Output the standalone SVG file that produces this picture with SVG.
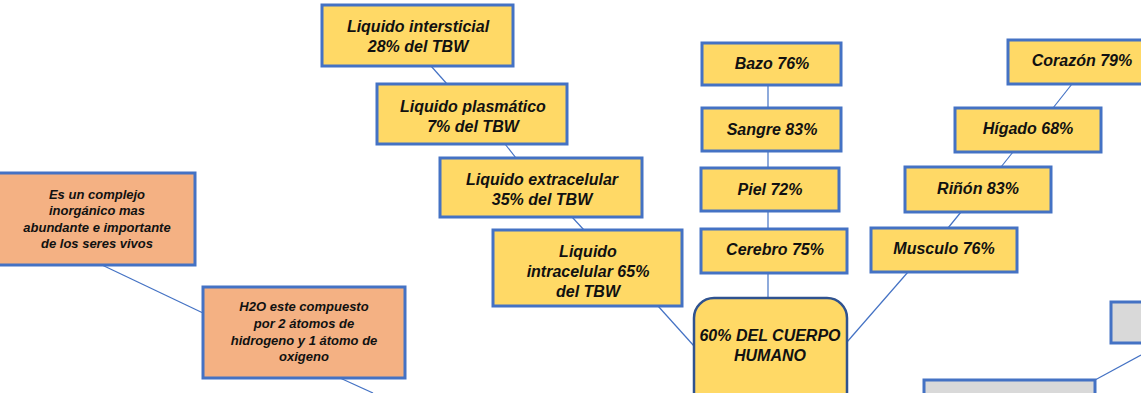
<svg xmlns="http://www.w3.org/2000/svg" width="1141" height="393" viewBox="0 0 1141 393">
<style>
.y{fill:#FFD966;stroke:#4472C4;stroke-width:3}
.o{fill:#F4B183;stroke:#4472C4;stroke-width:3}
.g{fill:#D9D9D9;stroke:#4472C4;stroke-width:3}
.c{fill:#FFD966;stroke:#2F528F;stroke-width:2.5}
text{font-family:"Liberation Sans",Arial,sans-serif;font-weight:bold;font-style:italic;fill:#111;text-anchor:middle}
.t16{font-size:16px}
.t13{font-size:13px}
.ln{stroke:#4472C4;stroke-width:1.2;fill:none}
</style>
<rect width="1141" height="393" fill="#fff"/>
<g id="connectors">
<line class="ln" x1="102" y1="265" x2="203" y2="313"/>
<line class="ln" x1="340" y1="378" x2="373" y2="393"/>
<line class="ln" x1="431" y1="66" x2="447" y2="84"/>
<line class="ln" x1="505" y1="144" x2="516" y2="158"/>
<line class="ln" x1="572" y1="217" x2="584" y2="230"/>
<line class="ln" x1="658" y1="306" x2="694" y2="346"/>
<line class="ln" x1="768" y1="85" x2="768" y2="108"/>
<line class="ln" x1="768" y1="151" x2="768" y2="168"/>
<line class="ln" x1="768" y1="211" x2="768" y2="229"/>
<line class="ln" x1="768" y1="273" x2="768" y2="298"/>
<line class="ln" x1="847" y1="342" x2="908" y2="272"/>
<line class="ln" x1="948" y1="228" x2="961" y2="212"/>
<line class="ln" x1="1001" y1="167" x2="1013" y2="152"/>
<line class="ln" x1="1053" y1="108" x2="1072" y2="84"/>
<line class="ln" x1="1095" y1="380" x2="1141" y2="355"/>
</g>
<g id="n-complejo"><rect class="o" x="-2" y="173" width="197" height="92"/>
<text class="t13" x="97" y="199">Es un complejo</text><text class="t13" x="97" y="215">inorgánico mas</text><text class="t13" x="97" y="231.5">abundante e importante</text><text class="t13" x="97" y="248">de los seres vivos</text></g>
<g id="n-h2o"><rect class="o" x="203" y="287" width="202" height="91"/>
<text class="t13" x="304" y="311">H2O este compuesto</text><text class="t13" x="304" y="328">por 2 átomos de</text><text class="t13" x="304" y="344.5">hidrogeno y 1 átomo de</text><text class="t13" x="304" y="361">oxigeno</text></g>
<g id="n-intersticial"><rect class="y" x="322" y="5" width="191" height="61"/>
<text class="t16" x="418" y="32">Liquido intersticial</text><text class="t16" x="418" y="52">28% del TBW</text></g>
<g id="n-plasmatico"><rect class="y" x="377" y="84" width="190" height="60"/>
<text class="t16" x="473" y="111.5">Liquido plasmático</text><text class="t16" x="473" y="131.5">7% del TBW</text></g>
<g id="n-extracelular"><rect class="y" x="440" y="158" width="202" height="59"/>
<text class="t16" x="542" y="185">Liquido extracelular</text><text class="t16" x="542" y="205">35% del TBW</text></g>
<g id="n-intracelular"><rect class="y" x="493" y="230" width="189" height="76"/>
<text class="t16" x="588" y="257">Liquido</text><text class="t16" x="588" y="277">intracelular 65%</text><text class="t16" x="588" y="297">del TBW</text></g>
<g id="n-bazo"><rect class="y" x="702" y="43" width="139" height="42"/><text class="t16" x="772" y="69">Bazo 76%</text></g>
<g id="n-sangre"><rect class="y" x="702" y="108" width="139" height="43"/><text class="t16" x="772" y="135">Sangre 83%</text></g>
<g id="n-piel"><rect class="y" x="701" y="168" width="138" height="43"/><text class="t16" x="770" y="195">Piel 72%</text></g>
<g id="n-cerebro"><rect class="y" x="701" y="229" width="146" height="44"/><text class="t16" x="775" y="255">Cerebro 75%</text></g>
<g id="n-centro"><rect class="c" x="694" y="298" width="153" height="115" rx="20"/>
<text class="t16" x="770" y="341">60% DEL CUERPO</text><text class="t16" x="770" y="361">HUMANO</text></g>
<g id="n-musculo"><rect class="y" x="871" y="228" width="146" height="44"/><text class="t16" x="944" y="254">Musculo 76%</text></g>
<g id="n-rinon"><rect class="y" x="905" y="167" width="146" height="45"/><text class="t16" x="978" y="194">Riñón 83%</text></g>
<g id="n-higado"><rect class="y" x="955" y="108" width="146" height="44"/><text class="t16" x="1028" y="134">Hígado 68%</text></g>
<g id="n-corazon"><rect class="y" x="1008" y="40" width="140" height="44"/><text class="t16" x="1082" y="66">Corazón 79%</text></g>
<g id="n-gris1"><rect class="g" x="1111" y="302" width="40" height="41"/></g>
<g id="n-gris2"><rect class="g" x="924" y="380" width="171" height="30"/></g>
</svg>
